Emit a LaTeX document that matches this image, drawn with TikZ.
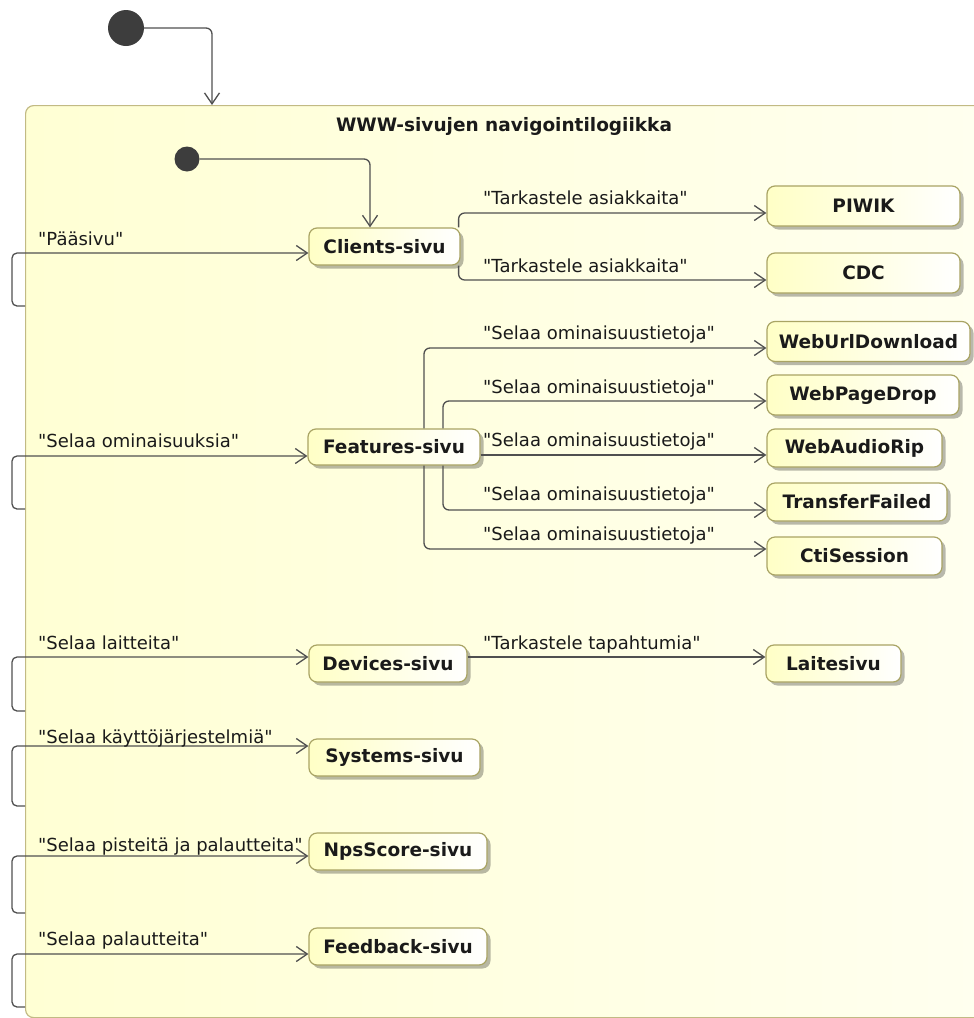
\documentclass[tikz,border=0pt]{standalone}
\usepackage{fontspec}
% family without TeX ligature mapping, so " stays a straight quote
\newfontfamily\dvs{DejaVu Sans}
\usetikzlibrary{arrows.meta,shadows}

\definecolor{linegray}{HTML}{505050}
\definecolor{nodeborder}{HTML}{A9A464}
\definecolor{nodefill}{HTML}{FFFFC6}
\definecolor{stateborder}{HTML}{C2BA84}
\definecolor{statefill}{HTML}{FFFFD4}
\definecolor{statefillr}{HTML}{FFFFF0}
\definecolor{initfill}{HTML}{3D3D3D}
\definecolor{txt}{HTML}{1A1A1A}

\tikzset{
  conn/.style={draw=linegray, line width=1.3pt, rounded corners=6pt,
    -{Straight Barb[length=11pt,width=15pt]}},
  loopconn/.style={conn, rounded corners=5pt},
  lbl/.style={anchor=base west, inner sep=0pt, font=\dvs\fontsize{18}{20}\selectfont, text=txt},
  stbox/.style={rectangle, rounded corners=8pt, draw=nodeborder, line width=1.2pt,
    left color=nodefill, right color=white, inner sep=0pt,
    font=\dvs\fontsize{18.5}{20}\selectfont\bfseries, text=txt,
    drop shadow={shadow xshift=3.5pt, shadow yshift=-3.5pt, fill=black, opacity=0.28}},
  srcbox/.style={stbox, minimum height=37pt},
  dstbox/.style={stbox, minimum height=40pt},
  statebox/.style={rectangle, rounded corners=8pt, draw=stateborder, line width=1.2pt,
    left color=statefill, right color=statefillr, inner sep=0pt},
  initdot/.style={circle, fill=initfill, inner sep=0pt},
}

\begin{document}
\begin{tikzpicture}[x=1pt, y=-1pt]
\useasboundingbox (0,0) rectangle (974,1018);

% composite state
\begin{scope}
  \clip (0,0) rectangle (974,1018);
  \node[statebox, anchor=north west, minimum width=990pt, minimum height=912pt] (state) at (25,105) {};
\end{scope}
\node[anchor=base, inner sep=0pt, font=\dvs\fontsize{18.5}{20}\selectfont\bfseries, text=txt]
  (title) at (504,131) {WWW-sivujen navigointilogiikka};

% initial pseudostates
\node[initdot, minimum size=36pt] (init1) at (126,28) {};
\node[initdot, minimum size=25pt] (init2) at (187,159) {};
\coordinate (entry) at (212,105);

% pages
\node[srcbox, minimum width=151pt] (clients)  at (384.5,246.5) {Clients-sivu};
\node[srcbox, minimum width=172pt, minimum height=36pt] (features) at (394,447) {Features-sivu};
\node[srcbox, minimum width=158pt] (devices)  at (388,663.5) {Devices-sivu};
\node[srcbox, minimum width=171pt] (systems)  at (394.5,757.5) {Systems-sivu};
\node[srcbox, minimum width=178pt] (nps)      at (398,851.5) {NpsScore-sivu};
\node[srcbox, minimum width=178pt] (feedback) at (398,946.5) {Feedback-sivu};

\node[dstbox, minimum width=193pt] (piwik)    at (863.5,206) {PIWIK};
\node[dstbox, minimum width=193pt] (cdc)      at (863.5,273) {CDC};
\node[dstbox, minimum width=203pt] (weburl)   at (868.5,341.5) {WebUrlDownload};
\node[dstbox, minimum width=192pt] (webpage)  at (863,395) {WebPageDrop};
\node[dstbox, minimum width=175pt, minimum height=38pt] (webaudio) at (854.5,448) {WebAudioRip};
\node[dstbox, minimum width=180pt, minimum height=38pt] (transfer) at (857,502) {TransferFailed};
\node[dstbox, minimum width=175pt, minimum height=38pt] (cti)      at (854.5,556) {CtiSession};
\node[srcbox, minimum width=135pt] (laite)    at (833.5,663.5) {Laitesivu};

% initial transitions
\draw[conn] (init1.east) -| (entry);
\draw[conn] (init2.east) -| ([xshift=-14.5pt]clients.north);

% self loops from the composite state border
\coordinate (lp1) at (25,306);
\coordinate (lp2) at (25,509);
\coordinate (lp3) at (25,711);
\coordinate (lp4) at (25,806);
\coordinate (lp5) at (25,913);
\coordinate (lp6) at (25,1007);
\draw[loopconn] (lp1) -- ++(-13,0) |- ([yshift=-6.5pt]clients.west);
\draw[loopconn] (lp2) -- ++(-13,0) |- ([yshift=-9pt]features.west);
\draw[loopconn] (lp3) -- ++(-13,0) |- ([yshift=6.5pt]devices.west);
\draw[loopconn] (lp4) -- ++(-13,0) |- ([yshift=11.5pt]systems.west);
\draw[loopconn] (lp5) -- ++(-13,0) |- ([yshift=-4.5pt]nps.west);
\draw[loopconn] (lp6) -- ++(-13,0) |- ([yshift=-7.5pt]feedback.west);

\node[lbl] (t1) at (38,245) {"Pääsivu"};
\node[lbl] (t2) at (38,447) {"Selaa ominaisuuksia"};
\node[lbl] (t3) at (38,649) {"Selaa laitteita"};
\node[lbl] (t4) at (38,743) {"Selaa käyttöjärjestelmiä"};
\node[lbl] (t5) at (38,851) {"Selaa pisteitä ja palautteita"};
\node[lbl] (t6) at (38,945) {"Selaa palautteita"};

% transitions between pages
\draw[conn] ([xshift=-2pt]clients.north east) |- ([yshift=-7pt]piwik.west);
\draw[conn] ([xshift=-2pt]clients.south east) |- ([yshift=-7pt]cdc.west);
\node[lbl] (t7) at (483,204) {"Tarkastele asiakkaita"};
\node[lbl] (t8) at (483,272) {"Tarkastele asiakkaita"};

\draw[conn] ([xshift=30pt]features.north) |- ([yshift=-6.5pt]weburl.west);
\draw[conn] ([xshift=49pt]features.north) |- ([yshift=-6pt]webpage.west);
\draw[conn] ([yshift=-8pt]features.east) -- ([yshift=-7pt]webaudio.west);
\draw[conn] ([xshift=49pt]features.south) |- ([yshift=-8pt]transfer.west);
\draw[conn] ([xshift=30pt]features.south) |- ([yshift=7pt]cti.west);
\node[lbl] (t9)  at (483,339) {"Selaa ominaisuustietoja"};
\node[lbl] (t10) at (483,393) {"Selaa ominaisuustietoja"};
\node[lbl] (t11) at (483,446) {"Selaa ominaisuustietoja"};
\node[lbl] (t12) at (483,500) {"Selaa ominaisuustietoja"};
\node[lbl] (t13) at (483,540) {"Selaa ominaisuustietoja"};

\draw[conn] ([yshift=6.5pt]devices.east) -- ([yshift=6.5pt]laite.west);
\node[lbl] (t14) at (483,649) {"Tarkastele tapahtumia"};
\end{tikzpicture}
\end{document}
